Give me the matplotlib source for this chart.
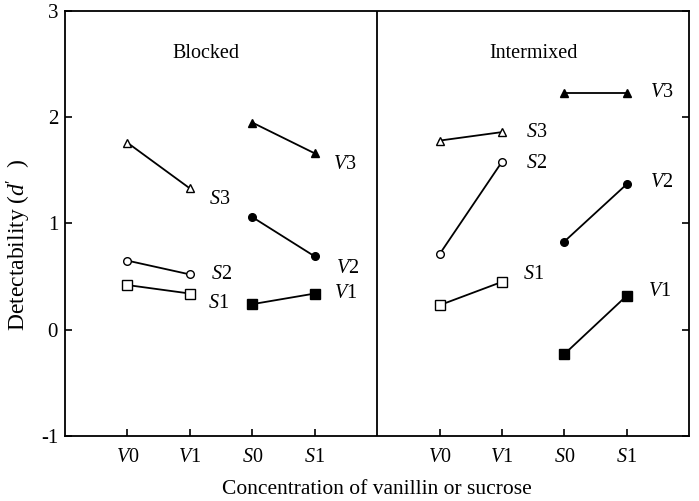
import matplotlib
matplotlib.use("Agg")
import matplotlib.pyplot as plt

plt.rcParams['font.family'] = ['Liberation Serif', 'DejaVu Serif']
plt.rcParams['mathtext.fontset'] = 'custom'
plt.rcParams['mathtext.rm'] = 'Liberation Serif'
plt.rcParams['mathtext.it'] = 'Liberation Serif:italic'
plt.rcParams['axes.unicode_minus'] = False

# ---- data ----
tick_labels = ['V0', 'V1', 'S0', 'S1', 'V0', 'V1', 'S0', 'S1']
panels = ['Blocked', 'Intermixed']

# Blocked: S series at V0, V1 ; V series at S0, S1
blk_S1 = [0.42, 0.34]
blk_S2 = [0.65, 0.52]
blk_S3 = [1.76, 1.33]
blk_V1 = [0.24, 0.34]
blk_V2 = [1.06, 0.69]
blk_V3 = [1.95, 1.66]

# Intermixed
int_S1 = [0.23, 0.45]
int_S2 = [0.71, 1.58]
int_S3 = [1.78, 1.86]
int_V1 = [-0.23, 0.32]
int_V2 = [0.83, 1.37]
int_V3 = [2.23, 2.23]

fig = plt.figure(figsize=(6.99, 5.01), dpi=100)
ax = fig.add_axes([0.093, 0.13, 0.893, 0.848])
ax.set_xlim(0, 10)
ax.set_ylim(-1, 3)

xt = [1, 2, 3, 4, 6, 7, 8, 9]

def lab(t):
    return r'$\mathit{%s}$%s' % (t[0], t[1:])

series = [
    # (x positions, values, marker, filled, label, label offset px)
    ([1, 2], blk_S3, '^', False, 'S3', (14, -8)),
    ([1, 2], blk_S2, 'o', False, 'S2', (15, 0)),
    ([1, 2], blk_S1, 's', False, 'S1', (13, -7)),
    ([3, 4], blk_V3, '^', True, 'V3', (13, -8)),
    ([3, 4], blk_V2, 'o', True, 'V2', (15, -9)),
    ([3, 4], blk_V1, 's', True, 'V1', (14, 0)),
    ([6, 7], int_S3, '^', False, 'S3', (17, 0)),
    ([6, 7], int_S2, 'o', False, 'S2', (17, -1)),
    ([6, 7], int_S1, 's', False, 'S1', (15, 5)),
    ([8, 9], int_V3, '^', True, 'V3', (17, 0)),
    ([8, 9], int_V2, 'o', True, 'V2', (17, 1)),
    ([8, 9], int_V1, 's', True, 'V1', (15, 3)),
]

msize = {'^': 6, 'o': 5.5, 's': 6.5}
for xs, ys, m, filled, name, off in series:
    ax.plot(xs, ys, color='black', lw=1.3, marker=m, ms=msize[m],
            mfc='black' if filled else 'white', mec='black', mew=1.0, zorder=3)
    ax.annotate(lab(name), (xs[1], ys[1]), xytext=off, textcoords='offset points',
                ha='left', va='center', fontsize=14.5)

ax.axvline(5, color='black', lw=1.3)

ax.text(2.25, 2.6, panels[0], ha='center', va='center', fontsize=14.5)
ax.text(7.5, 2.6, panels[1], ha='center', va='center', fontsize=14.5)

ax.set_xticks(xt)
ax.set_xticklabels([lab(t) for t in tick_labels], fontsize=14.5)
ax.set_yticks([-1, 0, 1, 2, 3])
ax.set_yticklabels(['-1', '0', '1', '2', '3'], fontsize=15)
ax.tick_params(axis='both', direction='in', length=5, width=1.2, right=True, top=False)
ax.tick_params(axis='x', pad=9)
ax.tick_params(axis='y', pad=5)
for s in ax.spines.values():
    s.set_linewidth(1.3)

ax.set_xlabel('Concentration of vanillin or sucrose', fontsize=15.5, labelpad=9)
ax.set_ylabel(r"Detectability ($\mathit{d}$$'$  )", fontsize=17)
ax.yaxis.set_label_coords(-0.052, 0.45)

fig.savefig('out.png', dpi=100)
